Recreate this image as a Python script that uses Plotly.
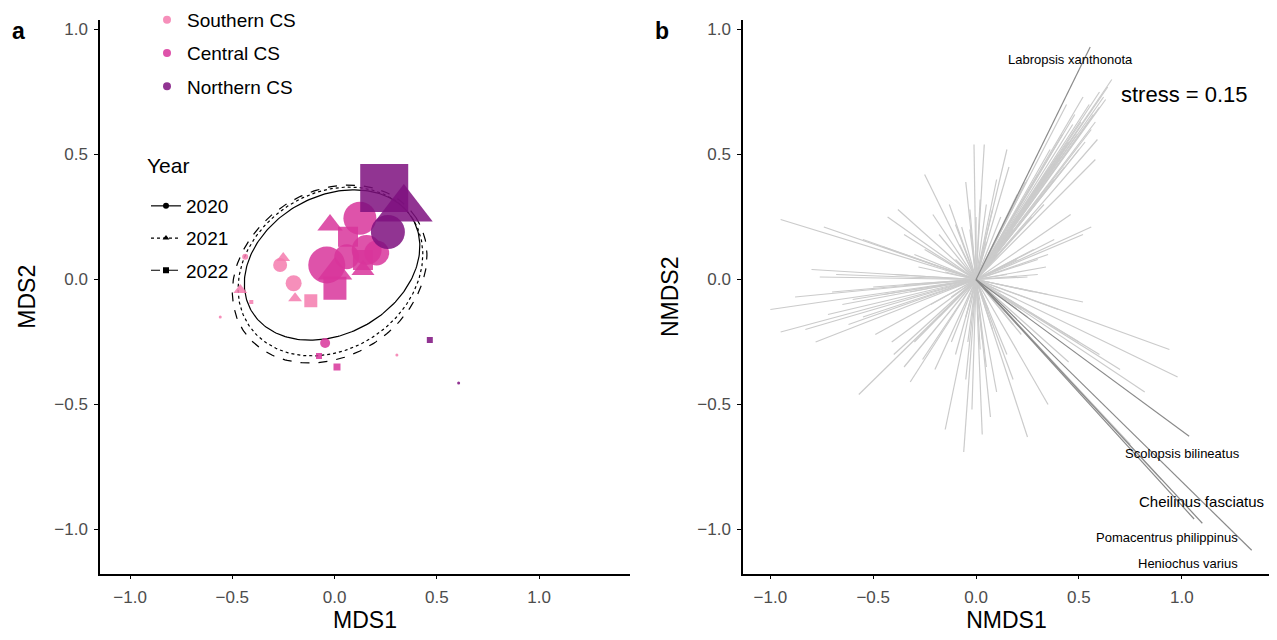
import numpy as np
import plotly.graph_objects as go

# ---------------- Panel a: site ordination (MDS) ----------------
region_names = ["Southern CS", "Central CS", "Northern CS"]
region_colors = ["#F57BAE", "#D8359B", "#7E117F"]
year_names = ["2020", "2021", "2022"]
year_symbols = ["circle", "triangle-up", "square"]
year_dashes = ["solid", "dot", "dash"]

site_region = ["Southern CS"] * 10 + ["Central CS"] * 14 + ["Northern CS"] * 5
site_year = [
    "2020", "2021", "2020", "2021", "2022", "2021", "2020", "2020", "2022", "2020",
    "2020", "2022", "2020", "2020", "2021", "2020", "2022", "2021", "2020", "2021", "2022", "2020", "2022", "2022",
    "2022", "2021", "2020", "2022", "2020",
]
site_mds1 = [
    -0.266, -0.251, -0.200, -0.193, -0.116, -0.461, -0.437, -0.559, -0.407, 0.305,
    0.124, 0.066, 0.157, 0.206, -0.022, 0.060, 0.139, 0.139, -0.038, 0.002, 0.002, -0.046, -0.076, 0.012,
    0.243, 0.339, 0.261, 0.466, 0.607,
]
site_mds2 = [
    0.058, 0.086, -0.015, -0.075, -0.085, -0.042, 0.091, -0.150, -0.090, -0.302,
    0.245, 0.171, 0.118, 0.106, 0.218, 0.091, 0.078, 0.038, 0.058, 0.030, -0.035, -0.254, -0.306, -0.350,
    0.366, 0.282, 0.190, -0.242, -0.414,
]
site_abundance = [
    14, 12, 16, 12, 13, 12, 6, 3, 4, 3,
    33, 20, 30, 25, 22, 25, 20, 20, 37, 30, 23, 10, 6, 7,
    48, 50, 34, 6, 3,
]

# 95% ellipses per year: centre and two conjugate semi-axis vectors (data units)
ell_cx = [-0.012, -0.020, -0.024]
ell_cy = [0.058, 0.032, 0.022]
ell_ux = [0.397, 0.401, 0.423]
ell_uy = [0.180, 0.213, 0.225]
ell_vx = [-0.163, -0.208, -0.218]
ell_vy = [0.241, 0.262, 0.276]

# ---------------- Panel b: species vectors (NMDS) ----------------
species_light_x = [
    0.66, 0.64, 0.62, 0.60, 0.58, 0.59, 0.58, 0.52, 0.51, 0.55, 0.47, 0.45, 0.50, 0.40, 0.43, 0.35,
    0.38, 0.30, 0.48, 0.56, 0.53, 0.42, 0.36, 0.60, 0.25, 0.44, 0.33, 0.27, 0.63, 0.57, 0.49, 0.41,
    0.46, 0.56, 0.52, 0.38, 0.28, 0.34, 0.30, 0.25, 0.35, 0.20,
    0.52, 0.35, 0.40, 0.94, 0.98, 0.82, 0.70, 0.60, 0.50, 0.45, 0.90, 0.75,
    0.35, 0.25, 0.03, -0.06, -0.15, 0.18, 0.10, 0.05, -0.05, 0.15, -0.10, 0.22, 0.07, -0.02,
    -0.57, -0.32, -0.26, -0.40, -0.49, -0.41, -0.30, -0.20, -0.35,
    -1.00, -0.95, -0.83, -0.78, -0.80, -0.76, -0.70, -0.65, -0.60, -0.55, -0.50, -0.45, -0.88,
    -0.72, -0.62, -0.68, -0.40, -0.35,
    -0.95, -0.74, -0.43, -0.38, -0.55, -0.45, -0.30, -0.35,
    -0.25, -0.21, -0.07, -0.01, 0.04, 0.15, -0.05, -0.13, 0.10, 0.02, 0.08, 0.20, 0.16, 0.24,
    0.10, -0.10, 0.12, -0.12, 0.05, -0.05, 0.15, -0.15, 0.06, -0.08, 0.00, 0.03, -0.03,
    0.28, 0.22, -0.28, -0.22, 0.05, -0.03, 0.02, -0.04, 0.18, -0.18, 0.18, -0.18, 0.30, -0.32,
    0.12, -0.12, 0.25, -0.25, 0.08, -0.10,
]
species_light_y = [
    0.80, 0.77, 0.73, 0.69, 0.63, 0.56, 0.48, 0.73, 0.63, 0.70, 0.62, 0.55, 0.52, 0.50, 0.45, 0.44,
    0.40, 0.42, 0.66, 0.60, 0.55, 0.58, 0.52, 0.75, 0.40, 0.70, 0.30, 0.25, 0.72, 0.66, 0.58, 0.49,
    0.26, 0.21, 0.18, 0.16, 0.12, 0.05, 0.02, 0.01, 0.10, 0.08,
    -0.09, -0.06, -0.12, -0.28, -0.39, -0.45, -0.36, -0.30, -0.25, -0.33, -0.80, -0.66,
    -0.50, -0.63, -0.62, -0.69, -0.60, -0.40, -0.45, -0.35, -0.40, -0.30, -0.30, -0.22, -0.55, -0.52,
    -0.46, -0.41, -0.32, -0.30, -0.22, -0.25, -0.25, -0.36, -0.35,
    -0.12, -0.21, -0.20, -0.25, 0.04, 0.01, -0.05, -0.10, -0.08, -0.15, -0.03, -0.06, -0.07,
    -0.14, -0.18, 0.02, 0.02, -0.02,
    0.24, 0.21, 0.25, 0.28, 0.16, 0.13, 0.10, 0.18,
    0.42, 0.26, 0.21, 0.54, 0.54, 0.52, 0.39, 0.30, 0.40, 0.32, 0.28, 0.34, 0.45, 0.39,
    0.10, 0.08, -0.05, -0.07, 0.15, -0.15, 0.02, 0.03, -0.12, 0.14, 0.25, -0.24, 0.20,
    -0.05, -0.12, 0.05, -0.10, 0.30, 0.28, -0.28, -0.25, 0.20, 0.18, -0.18, -0.15, 0.08, -0.05,
    0.25, -0.25, -0.15, 0.12, -0.20, 0.22,
]
species_dark_x = [0.555, 1.036, 1.100, 1.060, 1.340]
species_dark_y = [0.930, -0.627, -0.975, -0.958, -1.083]

label_text = ["Labropsis xanthonota", "Scolopsis bilineatus", "Cheilinus fasciatus",
              "Pomacentrus philippinus", "Heniochus varius"]
label_x = [0.773, 1.293, 1.409, 1.283, 1.283]   # right edge of each label
label_y = [0.880, -0.695, -0.889, -1.031, -1.135]
label_size = [13, 13, 15, 13, 13]
stress_value = 0.15

FONT = "Liberation Sans, Arial, sans-serif"
OFF = 8  # page offset of the plot in the browser window (px)
W, H = 1277, 640


def px(x):
    return (x - OFF) / W


def py(y):
    return 1 - (y - OFF) / H


fig = go.Figure()

# ellipses
t = np.linspace(0, 2 * np.pi, 240)
for i, yr in enumerate(year_names):
    ex = ell_cx[i] + ell_ux[i] * np.cos(t) + ell_vx[i] * np.sin(t)
    ey = ell_cy[i] + ell_uy[i] * np.cos(t) + ell_vy[i] * np.sin(t)
    fig.add_trace(go.Scatter(x=ex, y=ey, mode="lines", showlegend=False,
                             line=dict(color="black", width=1.2, dash=year_dashes[i]),
                             xaxis="x", yaxis="y", hoverinfo="skip"))

# site points per region
for ri, reg in enumerate(region_names):
    idx = [k for k, r in enumerate(site_region) if r == reg]
    fig.add_trace(go.Scatter(
        x=[site_mds1[k] for k in idx], y=[site_mds2[k] for k in idx], mode="markers",
        marker=dict(color=region_colors[ri], opacity=0.85,
                    size=[site_abundance[k] for k in idx],
                    symbol=[year_symbols[year_names.index(site_year[k])] for k in idx],
                    line=dict(width=0)),
        showlegend=False, xaxis="x", yaxis="y"))

# legend entries: regions
for ri, reg in enumerate(region_names):
    fig.add_trace(go.Scatter(x=[None], y=[None], mode="markers", name=reg,
                             marker=dict(color=region_colors[ri], size=8, opacity=0.85, symbol="circle"),
                             legend="legend", legendgroup=reg, xaxis="x", yaxis="y"))
# legend entries: years
for i, yr in enumerate(year_names):
    fig.add_trace(go.Scatter(x=[None], y=[None], mode="lines+markers", name=yr,
                             line=dict(color="black", width=1.2, dash=year_dashes[i]),
                             marker=dict(color="black", size=6, symbol=year_symbols[i]),
                             legend="legend2", legendgroup="y" + yr, xaxis="x", yaxis="y"))

# species vectors
lx, ly = [], []
for ex, ey in zip(species_light_x, species_light_y):
    lx += [0, ex, None]
    ly += [0, ey, None]
fig.add_trace(go.Scatter(x=lx, y=ly, mode="lines", line=dict(color="#CBCBCB", width=1.2),
                         showlegend=False, xaxis="x2", yaxis="y2", hoverinfo="skip"))
dx, dy = [], []
for ex, ey in zip(species_dark_x, species_dark_y):
    dx += [0, ex, None]
    dy += [0, ey, None]
fig.add_trace(go.Scatter(x=dx, y=dy, mode="lines", line=dict(color="#8A8A8A", width=1.2),
                         showlegend=False, xaxis="x2", yaxis="y2", hoverinfo="skip"))

annotations = []
for txt, x, y, s in zip(label_text, label_x, label_y, label_size):
    annotations.append(dict(text=txt, x=x, y=y, xref="x2", yref="y2", showarrow=False,
                            xanchor="right", yanchor="middle",
                            font=dict(size=s, color="black", family=FONT)))
annotations.append(dict(text="stress = %.2f" % stress_value, x=1.332, y=0.74, xref="x2", yref="y2",
                        xanchor="right", yanchor="middle",
                        showarrow=False, font=dict(size=22, color="black", family=FONT)))
annotations.append(dict(text="<b>a</b>", x=px(18), y=py(31), xref="paper", yref="paper",
                        showarrow=False, xanchor="center", yanchor="middle",
                        font=dict(size=23, color="black", family=FONT)))
annotations.append(dict(text="<b>b</b>", x=px(662), y=py(31), xref="paper", yref="paper",
                        showarrow=False, xanchor="center", yanchor="middle",
                        font=dict(size=23, color="black", family=FONT)))
annotations.append(dict(text="Year", x=px(145), y=py(165), xref="paper", yref="paper",
                        showarrow=False, xanchor="left", yanchor="middle",
                        font=dict(size=21, color="black", family=FONT)))

tickvals = [-1.0, -0.5, 0.0, 0.5, 1.0]
axis_common = dict(showline=True, linecolor="black", linewidth=1.5, ticks="outside", ticklen=4,
                   tickcolor="black", tickwidth=1.2, showgrid=False, zeroline=False,
                   tickvals=tickvals, tickformat=".1f", ticklabelstandoff=3,
                   tickfont=dict(size=17, color="#4D4D4D", family=FONT))
xtitle = dict(size=23, color="black", family=FONT)
ydom = [py(573.5), py(20)]

fig.update_layout(
    width=W, height=H, margin=dict(l=0, r=0, t=0, b=0, autoexpand=False),
    paper_bgcolor="white", plot_bgcolor="white",
    font=dict(family=FONT, color="black"),
    xaxis=dict(domain=[px(100), px(630)], range=[-1.147, 1.445], anchor="y",
               title=dict(text="MDS1", font=xtitle, standoff=6), **axis_common),
    yaxis=dict(domain=ydom, range=[-1.176, 1.038], anchor="x",
               title=dict(text="MDS2", font=xtitle, standoff=12), **axis_common),
    xaxis2=dict(domain=[px(743), px(1270)], range=[-1.133, 1.429], anchor="y2",
                title=dict(text="NMDS1", font=xtitle, standoff=6), **axis_common),
    yaxis2=dict(domain=ydom, range=[-1.176, 1.038], anchor="x2",
                title=dict(text="NMDS2", font=xtitle, standoff=12), **axis_common),
    legend=dict(x=px(147), y=py(1), xanchor="left", yanchor="top",
                bgcolor="rgba(0,0,0,0)", font=dict(size=19, color="black", family=FONT),
                tracegroupgap=5.5, traceorder="grouped"),
    legend2=dict(x=px(146), y=py(187), xanchor="left", yanchor="top",
                 bgcolor="rgba(0,0,0,0)", font=dict(size=19, color="black", family=FONT),
                 tracegroupgap=4.5, traceorder="grouped"),
    annotations=annotations,
    showlegend=True,
)

fig.write_html("out.html")
